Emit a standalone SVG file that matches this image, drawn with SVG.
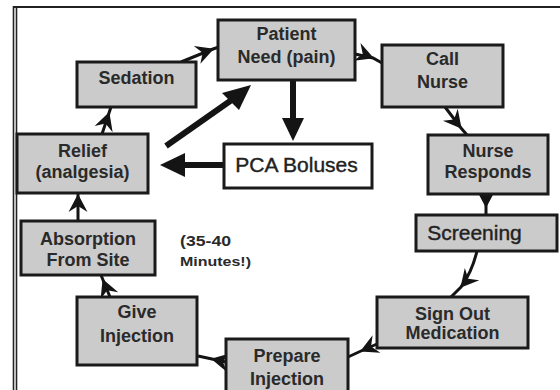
<svg xmlns="http://www.w3.org/2000/svg" width="560" height="390" viewBox="0 0 560 390">
<defs>
<style>
.box{fill:#cbcbcb;stroke:#1a1a1a;stroke-width:3}
.wbox{fill:#ffffff;stroke:#1a1a1a;stroke-width:3}
.t{font-family:"Liberation Sans",Arial,sans-serif;font-weight:bold;font-size:18px;fill:#2a2a2a;text-anchor:middle}
.big{font-family:"Liberation Sans",Arial,sans-serif;font-size:21px;fill:#222;text-anchor:middle;stroke:#222;stroke-width:0.4}
.note{font-family:"Liberation Sans",Arial,sans-serif;font-weight:bold;fill:#2a2a2a}
.thin{fill:none;stroke:#141414;stroke-width:3;marker-mid:url(#ah)}
.thick{fill:none;stroke:#141414;stroke-width:6}
.head{fill:#141414}
.frame{stroke:#222;fill:none}
</style>
<marker id="ah" markerUnits="userSpaceOnUse" viewBox="-20 -12 24 24" markerWidth="24" markerHeight="24" refX="0" refY="0" orient="auto">
<path d="M1,0 L-17,-9.5 L-11,0 L-17,9.5 Z" fill="#141414"/>
</marker>
</defs>
<rect width="560" height="390" fill="#ffffff"/>
<g id="frame">
<line class="frame" x1="13.5" y1="6" x2="13.5" y2="390" stroke-width="1.6"/>
<line class="frame" x1="16.5" y1="7" x2="16.5" y2="390" stroke-width="1.6"/>
<line class="frame" x1="13" y1="7" x2="560" y2="7" stroke-width="2"/>
</g>
<g id="connectors">
<path class="thin" d="M181,62 L213,49 L219,47"/>
<path class="thin" d="M355,54 L373,58 L382,63"/>
<path class="thin" d="M445,107 L461,128 L467,135"/>
<path class="thin" d="M486,194 L486,207 L486,215"/>
<path class="thin" d="M477,251 Q472,272 461,287 L451,297"/>
<path class="thin" d="M377,344 L361,351 L348,357"/>
<path class="thin" d="M226,362 L212,359 L198,356"/>
<path class="thin" d="M110,297 L103,280 L101,275"/>
<path class="thin" d="M78,221 L78,195 L78,193"/>
<path class="thin" d="M102,134 L109,113 L111,107"/>
<path class="thick" d="M166,146 L233,99"/>
<polygon class="head" points="251,85 222,93 239,110"/>
<path class="thick" d="M293,80 L293,120"/>
<polygon class="head" points="293,141 282,118 304,118"/>
<path class="thick" d="M224,165 L182,165"/>
<polygon class="head" points="160,165 185,153 185,177"/>
</g>
<g id="patient-need">
<rect class="box" x="218" y="20" width="137" height="60"/>
<text class="t" x="286.5" y="40">Patient</text>
<text class="t" x="286.5" y="63">Need (pain)</text>
</g>
<g id="call-nurse">
<rect class="box" x="382" y="45" width="121" height="62"/>
<text class="t" x="442.5" y="65">Call</text>
<text class="t" x="442.5" y="88">Nurse</text>
</g>
<g id="nurse-responds">
<rect class="box" x="428" y="135" width="120" height="59"/>
<text class="t" x="488" y="157">Nurse</text>
<text class="t" x="488" y="178">Responds</text>
</g>
<g id="screening">
<rect class="box" x="416" y="215" width="141" height="36"/>
<text class="big" x="474.5" y="240">Screening</text>
</g>
<g id="sign-out">
<rect class="box" x="377" y="297" width="151" height="51"/>
<text class="t" x="452.5" y="320">Sign Out</text>
<text class="t" x="452.5" y="339">Medication</text>
</g>
<g id="prepare-injection">
<rect class="box" x="226" y="339" width="122" height="60"/>
<text class="t" x="287" y="362">Prepare</text>
<text class="t" x="287" y="385">Injection</text>
</g>
<g id="give-injection">
<rect class="box" x="77" y="297" width="120" height="68"/>
<text class="t" x="137" y="318">Give</text>
<text class="t" x="137" y="342">Injection</text>
</g>
<g id="absorption">
<rect class="box" x="21" y="221" width="134" height="54"/>
<text class="t" x="88" y="245">Absorption</text>
<text class="t" x="88" y="266">From Site</text>
</g>
<g id="relief">
<rect class="box" x="17" y="134" width="131" height="59"/>
<text class="t" x="82.5" y="157">Relief</text>
<text class="t" x="82.5" y="178">(analgesia)</text>
</g>
<g id="sedation">
<rect class="box" x="77" y="62" width="119" height="45"/>
<text class="t" x="136.5" y="84">Sedation</text>
</g>
<g id="pca-boluses">
<rect class="wbox" x="224" y="144" width="148" height="44"/>
<text class="big" x="296.5" y="172">PCA Boluses</text>
</g>
<g id="note">
<text class="note" x="180" y="246" font-size="15" textLength="51" lengthAdjust="spacingAndGlyphs">(35-40</text>
<text class="note" x="180" y="266" font-size="13.5" textLength="71" lengthAdjust="spacingAndGlyphs">Minutes!)</text>
</g>
</svg>
